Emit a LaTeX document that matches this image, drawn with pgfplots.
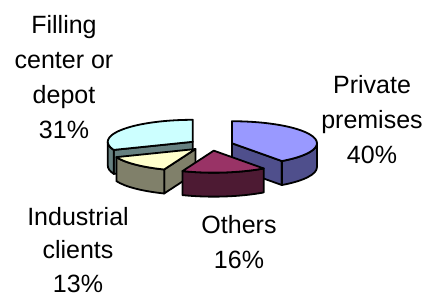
\documentclass[border=0pt]{standalone}
\usepackage{fontspec}
\setmainfont{Liberation Sans}
\usepackage{pgfplots}
\usepackage{pgfplotstable}
\pgfplotsset{compat=1.18}

\definecolor{aTop}{HTML}{9999FF}\definecolor{aSide}{HTML}{4F4F8C}
\definecolor{bTop}{HTML}{993366}\definecolor{bSide}{HTML}{4D1A33}
\definecolor{cTop}{HTML}{FFFFCC}\definecolor{cSide}{HTML}{80806A}
\definecolor{dTop}{HTML}{CCFFFF}\definecolor{dSide}{HTML}{668080}

\pgfplotstableread{
name value
Private 40
Others 16
Industrial 13
Filling 31
}\piedata

% geometry (pixels)
\def\CX{211}\def\CY{145}\def\RX{85}\def\RY{22}\def\PD{24}\def\EX{22}

\pgfplotsset{pieline/.style={draw=black, line width=1.8bp, line join=round, mark=none}}
\tikzset{lbl/.style={anchor=base, inner sep=0pt, font=\fontsize{25bp}{30bp}\selectfont}}

\newcommand\radial[5]{%
 \addplot[pieline, fill=#5, domain=0:1, samples=2] ({#2+x*\RX*cos(#1)},{#3-x*\RY*sin(#1)}) -- ++(0bp,-\PD bp) -- (axis cs:#2,{#3+\PD}) -- cycle;}
\newcommand\side[5]{%
 \addplot[pieline, fill=#5, domain=#1:#2, samples=40] ({#3+\RX*cos(x)},{#4-\RY*sin(x)}) -- ++(0bp,-\PD bp) arc[start angle=#2, end angle=#1, x radius=\RX bp, y radius=\RY bp] -- cycle;}
\newcommand\topface[5]{%
 \addplot[pieline, fill=#5, domain=#1:#2, samples=80] ({#3+\RX*cos(x)},{#4-\RY*sin(x)}) -- (axis cs:#3,#4) -- cycle;}

\begin{document}
\begin{tikzpicture}
\pgfplotstablegetelem{0}{value}\of\piedata \let\vA\pgfplotsretval
\pgfplotstablegetelem{1}{value}\of\piedata \let\vB\pgfplotsretval
\pgfplotstablegetelem{2}{value}\of\piedata \let\vC\pgfplotsretval
\pgfplotstablegetelem{3}{value}\of\piedata \let\vD\pgfplotsretval
\pgfmathsetmacro\aHi{90}
\pgfmathsetmacro\aLo{\aHi-3.6*\vA}
\pgfmathsetmacro\bHi{\aLo}
\pgfmathsetmacro\bLo{\bHi-3.6*\vB}
\pgfmathsetmacro\cHi{\bLo}
\pgfmathsetmacro\cLo{\cHi-3.6*\vC}
\pgfmathsetmacro\dHi{\cLo}
\pgfmathsetmacro\dLo{\dHi-3.6*\vD}
\pgfmathsetmacro\aX{\CX+\EX*cos((\aLo+\aHi)/2)}\pgfmathsetmacro\aY{\CY-\EX*\RY/\RX*sin((\aLo+\aHi)/2)}
\pgfmathsetmacro\bX{\CX+\EX*cos((\bLo+\bHi)/2)}\pgfmathsetmacro\bY{\CY-\EX*\RY/\RX*sin((\bLo+\bHi)/2)}
\pgfmathsetmacro\cX{\CX+\EX*cos((\cLo+\cHi)/2)}\pgfmathsetmacro\cY{\CY-\EX*\RY/\RX*sin((\cLo+\cHi)/2)}
\pgfmathsetmacro\dX{\CX+\EX*cos((\dLo+\dHi)/2)}\pgfmathsetmacro\dY{\CY-\EX*\RY/\RX*sin((\dLo+\dHi)/2)}
\pgfmathsetmacro\aSa{max(\aLo,-180)}\pgfmathsetmacro\aSb{min(\aHi,0)}
\pgfmathsetmacro\dSa{max(\dLo,-180)}\pgfmathsetmacro\dSb{min(\dHi,0)}
\begin{axis}[width=428bp, height=296bp, scale only axis,
  xmin=0, xmax=428, ymin=0, ymax=296, y dir=reverse,
  hide axis, clip=false]
% Filling center or depot (back left)
\radial{\dHi}{\dX}{\dY}{dSide}{dSide}
\side{\dSa}{\dSb}{\dX}{\dY}{dSide}
\topface{\dLo}{\dHi}{\dX}{\dY}{dTop}
% Private premises (back right)
\radial{\aLo}{\aX}{\aY}{aSide}{aSide}
\side{\aSa}{\aSb}{\aX}{\aY}{aSide}
\topface{\aLo}{\aHi}{\aX}{\aY}{aTop}
% Industrial clients
\radial{\cHi}{\cX}{\cY}{cSide}{cSide}
\side{\cLo}{\cHi}{\cX}{\cY}{cSide}
\topface{\cLo}{\cHi}{\cX}{\cY}{cTop}
% Others (front)
\side{\bLo}{\bHi}{\bX}{\bY}{bSide}
\topface{\bLo}{\bHi}{\bX}{\bY}{bTop}
% labels
\node[lbl] at (axis cs:64,34) {Filling};
\node[lbl] at (axis cs:64,68.5) {center or};
\node[lbl] at (axis cs:64,103) {depot};
\node[lbl] at (axis cs:64,138) {31\%};
\node[lbl] at (axis cs:372,93) {Private};
\node[lbl] at (axis cs:372,128) {premises};
\node[lbl] at (axis cs:372,163) {40\%};
\node[lbl] at (axis cs:239,233) {Others};
\node[lbl] at (axis cs:239,268) {16\%};
\node[lbl] at (axis cs:78,225) {Industrial};
\node[lbl] at (axis cs:78,258.5) {clients};
\node[lbl] at (axis cs:78,292) {13\%};
\end{axis}
\path (current axis.south west) rectangle (current axis.north east);
\end{tikzpicture}
\end{document}
